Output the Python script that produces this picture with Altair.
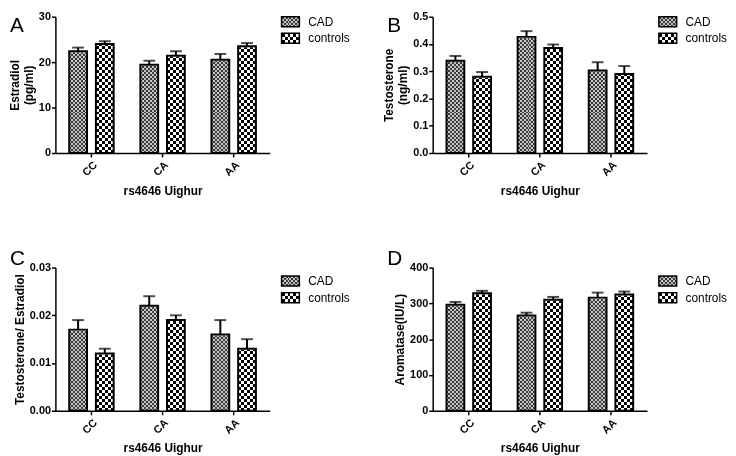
import altair as alt
import pandas as pd

# ---------------- data ----------------
genotypes = ["CC", "CA", "AA"]
groups = ["CAD", "controls"]

estradiol_cad = [22.4, 19.4, 20.5]
estradiol_cad_sem = [0.8, 0.9, 1.3]
estradiol_ctrl = [24.0, 21.4, 23.5]
estradiol_ctrl_sem = [0.6, 1.0, 0.7]

testo_cad = [0.338, 0.426, 0.303]
testo_cad_sem = [0.018, 0.021, 0.030]
testo_ctrl = [0.280, 0.385, 0.290]
testo_ctrl_sem = [0.017, 0.013, 0.029]

ratio_cad = [0.017, 0.022, 0.016]
ratio_cad_sem = [0.002, 0.002, 0.003]
ratio_ctrl = [0.012, 0.019, 0.013]
ratio_ctrl_sem = [0.001, 0.001, 0.002]

arom_cad = [296, 266, 316]
arom_cad_sem = [8, 8, 14]
arom_ctrl = [328, 310, 325]
arom_ctrl_sem = [7, 8, 8]

FONT = "Liberation Sans"
W = 217


def stripes(n, c1, c2, along_x):
    stops = []
    for i in range(n):
        c = c1 if i % 2 == 0 else c2
        stops.append(alt.GradientStop(offset=i / n, color=c))
        stops.append(alt.GradientStop(offset=(i + 1) / n, color=c))
    if along_x:
        return alt.LinearGradient(gradient="linear", stops=stops, x1=0, x2=1, y1=0, y2=0)
    return alt.LinearGradient(gradient="linear", stops=stops, x1=0, x2=0, y1=0, y2=1)


SQ = {"CAD": 2, "controls": 3}
TONES = {"CAD": ("#404040", "#c8c8c8"), "controls": ("#000000", "#ffffff")}


def panel(letter, ytitle, cad, cad_sem, ctrl, ctrl_sem, ymax, ticks, fmt, height, tpad, ldy,
          xtpad):
    rows = []
    for g, m, s in (("CAD", cad, cad_sem), ("controls", ctrl, ctrl_sem)):
        for gt, mv, sv in zip(genotypes, m, s):
            rows.append({"genotype": gt, "group": g, "mean": mv, "upper": mv + sv})
    df = pd.DataFrame(rows)

    xscale = alt.Scale(paddingInner=0.375, paddingOuter=14 / 72)
    xoscale = alt.Scale(paddingInner=1 / 3, paddingOuter=0)
    yscale = alt.Scale(domain=[0, ymax], nice=False, zero=True)
    xaxis = alt.Axis(title="rs4646 Uighur", labelAngle=-45, tickSize=4, titlePadding=xtpad,
                     labelPadding=2, labelFontSize=11)
    yaxis = alt.Axis(title=ytitle, values=ticks, format=fmt, tickSize=4, titlePadding=tpad,
                     labelPadding=1, labelFontSize=11)

    X = alt.X("genotype:N", sort=genotypes, scale=xscale, axis=xaxis)
    XO = alt.XOffset("group:N", sort=groups, scale=xoscale)
    base = alt.Chart(df).transform_calculate(top=str(ymax), zero="0")

    def Y(f):
        return alt.Y(f + ":Q", scale=yscale, axis=yaxis)

    layers = []
    for g in groups:
        c1, c2 = TONES[g]
        layers.append(
            base.transform_filter(alt.datum.group == g)
            .mark_bar(fill=stripes(18 // SQ[g], c1, c2, True))
            .encode(x=X, xOffset=XO, y=Y("mean"), y2=alt.Y2("zero:Q"))
        )
    for g in groups:
        layers.append(
            base.transform_filter(alt.datum.group == g)
            .mark_bar(fill=stripes(round(height / SQ[g]), "#000000", "#ffffff", False),
                      blend="difference")
            .encode(x=X, xOffset=XO, y=Y("top"), y2=alt.Y2("zero:Q"))
        )
    layers.append(
        base.mark_bar(fill="white", stroke="white", strokeWidth=2)
        .encode(x=X, xOffset=XO, y=Y("top"), y2=alt.Y2("mean:Q"))
    )
    layers.append(
        base.mark_bar(fill="transparent", stroke="black", strokeWidth=2)
        .encode(x=X, xOffset=XO, y=Y("mean"), y2=alt.Y2("zero:Q"))
    )
    layers.append(
        base.mark_rule(color="black", strokeWidth=2)
        .encode(x=X, xOffset=XO, y=Y("mean"), y2=alt.Y2("upper:Q"))
    )
    layers.append(
        base.mark_tick(color="black", thickness=2, size=12, orient="horizontal")
        .encode(x=X, xOffset=XO, y=Y("upper"))
    )
    return alt.layer(*layers).properties(
        width=W, height=height,
        title=alt.TitleParams(letter, anchor="start", frame="group", fontSize=21,
                              fontWeight="normal", font=FONT, dx=-46, dy=ldy, offset=0),
    )


def legend(width, height, po):
    ldf = pd.DataFrame({"group": groups})
    Y = alt.Y("group:N", sort=groups, axis=None,
              scale=alt.Scale(paddingInner=0.4, paddingOuter=po))
    lb = alt.Chart(ldf)
    layers = []
    for g in groups:
        c1, c2 = TONES[g]
        layers.append(
            lb.transform_filter(alt.datum.group == g)
            .mark_rect(fill=stripes(18 // SQ[g], c1, c2, True))
            .encode(y=Y, x=alt.value(0), x2=alt.value(18))
        )
    for g in groups:
        layers.append(
            lb.transform_filter(alt.datum.group == g)
            .mark_rect(fill=stripes(3 if g == "controls" else 5, "#000000", "#ffffff", False),
                       blend="difference")
            .encode(y=Y, x=alt.value(0), x2=alt.value(18))
        )
    layers.append(
        lb.mark_rect(fill="transparent", stroke="black", strokeWidth=1.5)
        .encode(y=Y, x=alt.value(0), x2=alt.value(18))
    )
    layers.append(
        lb.mark_text(align="left", baseline="middle", fontSize=12, font=FONT, color="black")
        .encode(y=Y, x=alt.value(27), text="group:N")
    )
    return alt.layer(*layers).properties(width=width, height=height)


pA = panel("A", ["Estradiol", "(pg/ml)"], estradiol_cad, estradiol_cad_sem,
           estradiol_ctrl, estradiol_ctrl_sem, 30, [0, 10, 20, 30], "d", 138, 3, 25, 8)
pB = panel("B", ["Testosterone", "(ng/ml)"], testo_cad, testo_cad_sem,
           testo_ctrl, testo_ctrl_sem, 0.5, [0, 0.1, 0.2, 0.3, 0.4, 0.5], ".1f", 138, 3, 25, 8)
pC = panel("C", "Testosterone/ Estradiol", ratio_cad, ratio_cad_sem,
           ratio_ctrl, ratio_ctrl_sem, 0.03, [0, 0.01, 0.02, 0.03], ".2f", 145, 3, 7, 7)
pD = panel("D", "Aromatase(IU/L)", arom_cad, arom_cad_sem,
           arom_ctrl, arom_ctrl_sem, 400, [0, 100, 200, 300, 400], "d", 145, 3, 7, 7)

row1 = alt.hconcat(pA, legend(141, 27, 0.0), pB, legend(60, 27, 0.0), spacing=12, bounds="flush")
row2 = alt.hconcat(pC, legend(141, 44, 0.5), pD, legend(60, 44, 0.5), spacing=12, bounds="flush")

chart = (
    alt.vconcat(row1, row2, spacing=254, bounds="flush")
    .properties(padding=0, background="white")
    .configure_view(stroke=None)
    .configure_axis(
        labelFont=FONT, titleFont=FONT, labelFontWeight="bold",
        titleFontSize=12, titleFontWeight="bold", labelColor="black", titleColor="black",
        domainColor="black", tickColor="black", domainWidth=1.5, tickWidth=1.5,
        grid=False,
    )
)

chart.save("out.html", embed_options={"renderer": "svg", "actions": False})
